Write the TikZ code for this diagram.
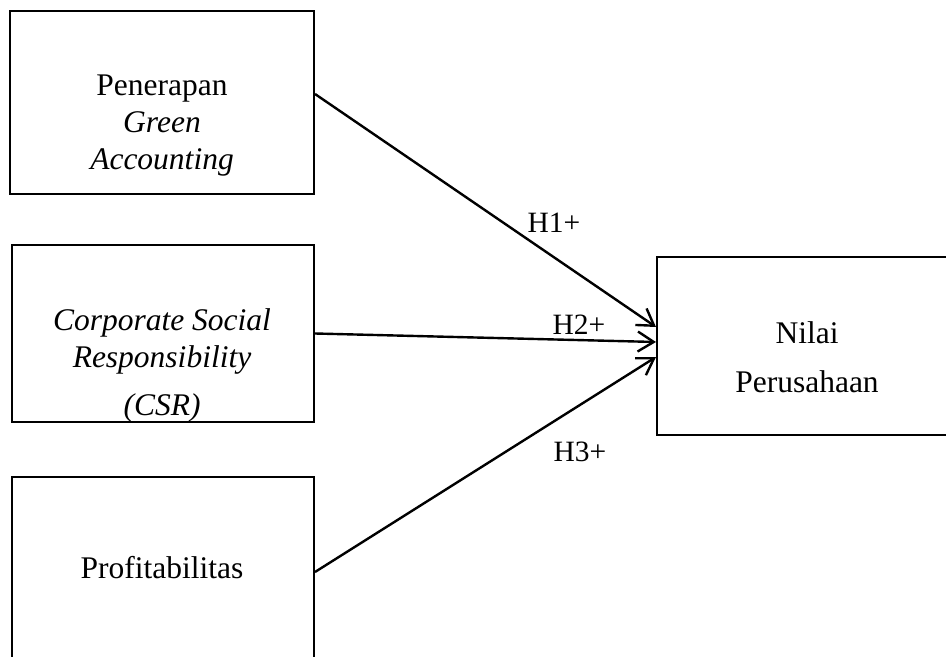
\documentclass[tikz,border=0pt]{standalone}
\usepackage{fontspec}
\setmainfont{Liberation Serif}
\usetikzlibrary{arrows.meta}
\begin{document}
\begin{tikzpicture}[x=0.5pt,y=-0.5pt,
  box/.style={draw, line width=1pt, inner sep=0pt},
  txt/.style={align=center, inner sep=0pt, font=\fontsize{15.75}{18.5}\selectfont},
  lbl/.style={inner sep=0pt, font=\fontsize{14.75}{17}\selectfont},
  arr/.style={line width=1.2pt, -{Straight Barb[length=8pt,width=10pt,line width=1.2pt]}}]
\useasboundingbox (0,0) rectangle (946,657);
\clip (0,0) rectangle (946,657);

% kotak variabel
\node[box, minimum width=152pt, minimum height=91.5pt] (pga) at (162,102.5) {};
\node[box, minimum width=151pt, minimum height=88.5pt] (csr) at (163,333.5) {};
\node[box, minimum width=151pt, minimum height=95pt] (prof) at (163,572) {};
\node[box, minimum width=150pt, minimum height=89pt] (nilai) at (807,346) {};

% teks di dalam kotak
\node[txt, anchor=base] (tpga) at (162,170) {Penerapan\\\textit{Green}\\\textit{Accounting}};
\node[txt, anchor=base] (tcsr) at (162,415) {\textit{Corporate Social}\\\textit{Responsibility}\\[5.5pt]\textit{(CSR)}};
\node[txt, anchor=base] (tprof) at (162,578) {Profitabilitas};
\node[txt, anchor=base] (tnilai) at (807,392) {Nilai\\[6pt]Perusahaan};

% hipotesis
\draw[arr] ([yshift=4.25pt]pga.east) -- ([yshift=9.5pt]nilai.west);
\draw[arr] (csr.east) -- ([yshift=2pt]nilai.west);
\draw[arr] (prof.east) -- ([yshift=-5.5pt]nilai.west);

\node[lbl, anchor=base] (h1) at (554,233) {H1+};
\node[lbl, anchor=base] (h2) at (579,335) {H2+};
\node[lbl, anchor=base] (h3) at (580,461) {H3+};
\end{tikzpicture}
\end{document}
